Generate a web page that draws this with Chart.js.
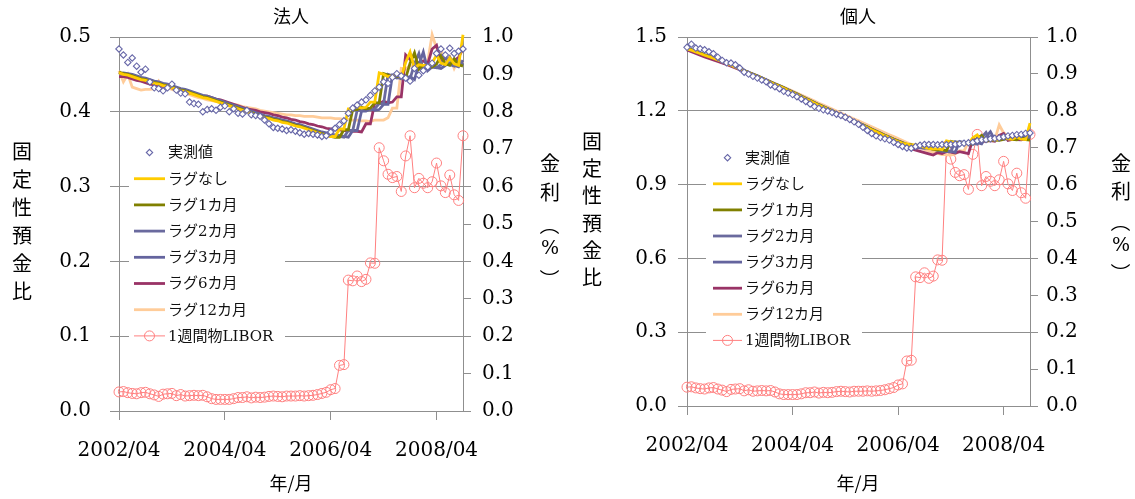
<!DOCTYPE html>
<html>
<head>
<meta charset="utf-8">
<script src="https://cdn.jsdelivr.net/npm/chart.js@4.4.1/dist/chart.umd.min.js"></script>
<style>
  html, body { margin: 0; padding: 0; background: #fff; }
  #wrap { position: relative; width: 1135px; height: 499px; overflow: hidden; }
  canvas { position: absolute; top: 0; }
  #c1 { left: 0; }
  #c2 { left: 567px; }
</style>
</head>
<body>
<div id="wrap">
  <canvas id="c1" width="567" height="499"></canvas>
  <canvas id="c2" width="568" height="499"></canvas>
</div>
<script>
// Months 2002/04 .. 2008/10
const months = [
  '2002/04','2002/05','2002/06','2002/07','2002/08','2002/09','2002/10','2002/11','2002/12',
  '2003/01','2003/02','2003/03','2003/04','2003/05','2003/06','2003/07','2003/08','2003/09','2003/10','2003/11','2003/12',
  '2004/01','2004/02','2004/03','2004/04','2004/05','2004/06','2004/07','2004/08','2004/09','2004/10','2004/11','2004/12',
  '2005/01','2005/02','2005/03','2005/04','2005/05','2005/06','2005/07','2005/08','2005/09','2005/10','2005/11','2005/12',
  '2006/01','2006/02','2006/03','2006/04','2006/05','2006/06','2006/07','2006/08','2006/09','2006/10','2006/11','2006/12',
  '2007/01','2007/02','2007/03','2007/04','2007/05','2007/06','2007/07','2007/08','2007/09','2007/10','2007/11','2007/12',
  '2008/01','2008/02','2008/03','2008/04','2008/05','2008/06','2008/07','2008/08','2008/09','2008/10'
];
const seriesNames = ['実測値','ラグなし','ラグ1カ月','ラグ2カ月','ラグ3カ月','ラグ6カ月','ラグ12カ月','1週間物LIBOR'];
const panelTitles = ['法人','個人'];
const leftAxisTitle = '固定性預金比';
const rightAxisTitle = '金利（%）';
const xAxisTitle = '年/月';

// 1週間物LIBOR (%)
const libor = [
  .051,.052,.049,.047,.046,.049,.050,.046,.043,.039,
  .045,.046,.047,.041,.044,.040,.041,.042,.041,.042,
  .038,.033,.031,.031,.031,.031,.033,.036,.036,.038,
  .035,.037,.036,.037,.039,.040,.039,.038,.040,.040,
  .040,.041,.040,.041,.042,.044,.047,.050,
  .057,.060,.122,.124,.350,.348,.361,.346,.352,.396,
  .395,.704,.669,.633,.624,.627,.587,.682,.736,.597,
  .622,.609,.597,.613,.663,.602,.584,.631,.578,.563,.736
];

// 法人
const corpActual = [
  .484,.476,.466,.472,.461,.453,.457,.440,.432,.431,
  .428,.432,.437,.429,.425,.424,.413,.411,.410,.400,
  .403,.404,.402,.406,.408,.400,.404,.398,.397,.402,
  .396,.395,.394,.389,.384,.379,.378,.377,.375,.376,
  .374,.372,.370,.371,.370,.369,.367,.368,
  .373,.378,.383,.388,.398,.405,.409,.413,.416,.422,
  .428,.433,.440,.438,.446,.451,.448,.445,.441,.458,
  .449,.455,.460,.465,.478,.484,.476,.485,.478,.481,.484
];
const corpLag0 = [
  .452,.450,.449,.447,.445,.443,.442,.440,.438,.437,
  .435,.434,.432,.430,.428,.427,.425,.423,.421,.419,
  .418,.416,.414,.412,.410,.408,.406,.404,.402,.400,
  .398,.396,.394,.392,.391,.389,.388,.386,.385,.383,
  .381,.380,.378,.376,.374,.372,.370,.368,
  .367,.367,.377,.377,.404,.404,.407,.405,.406,.413,
  .413,.452,.450,.447,.448,.450,.446,.466,.480,.458,
  .463,.462,.461,.465,.476,.465,.463,.472,.464,.462,.503
];
const corpLag1 = [
  .453,.451,.450,.448,.446,.444,.443,.441,.439,.438,
  .436,.435,.433,.431,.429,.428,.426,.424,.422,.420,
  .419,.417,.415,.413,.411,.409,.407,.405,.403,.401,
  .399,.397,.395,.393,.392,.390,.389,.387,.386,.384,
  .382,.381,.379,.377,.375,.373,.371,.369,
  .367,.366,.366,.376,.376,.403,.403,.406,.404,.405,
  .412,.412,.451,.449,.446,.447,.449,.445,.465,.479,
  .457,.462,.461,.460,.464,.475,.464,.462,.471,.463,.461
];
const corpLag2 = [
  .451,.451,.450,.449,.447,.445,.444,.442,.440,.439,
  .437,.436,.434,.432,.430,.429,.427,.425,.423,.421,
  .420,.418,.416,.414,.412,.410,.408,.406,.404,.402,
  .400,.398,.396,.394,.393,.391,.390,.388,.387,.385,
  .383,.382,.380,.378,.376,.374,.372,.371,
  .369,.368,.367,.366,.375,.375,.402,.402,.405,.403,
  .404,.411,.411,.450,.448,.445,.446,.448,.444,.464,
  .478,.456,.461,.460,.459,.463,.474,.463,.461,.470,.462
];
const corpLag3 = [
  .450,.452,.451,.450,.448,.446,.445,.443,.441,.440,
  .438,.437,.435,.433,.431,.430,.428,.426,.424,.422,
  .421,.419,.417,.415,.413,.411,.409,.407,.405,.403,
  .401,.399,.397,.395,.394,.392,.391,.389,.388,.386,
  .384,.383,.381,.379,.377,.375,.373,.372,
  .370,.369,.368,.367,.366,.375,.375,.401,.401,.404,
  .402,.403,.410,.410,.449,.447,.444,.445,.447,.443,
  .463,.480,.455,.460,.459,.458,.462,.473,.462,.460,.469
];
const corpLag6 = [
  .447,.447,.446,.444,.442,.441,.439,.437,.436,.434,
  .434,.433,.432,.430,.428,.427,.425,.424,.422,.421,
  .421,.419,.417,.416,.414,.412,.410,.408,.406,.404,
  .403,.402,.400,.399,.398,.396,.395,.393,.392,.390,
  .389,.387,.386,.384,.383,.381,.380,.378,
  .377,.377,.376,.375,.375,.374,.374,.373,.384,.384,
  .412,.411,.414,.412,.413,.420,.420,.476,.470,.465,
  .466,.468,.464,.484,.489,.467,.471,.470,.468,.473,.484
];
const corpLag12 = [
  .455,.440,.450,.433,.431,.429,.430,.430,.431,.441,
  .433,.432,.430,.428,.426,.425,.423,.421,.419,.418,
  .416,.415,.414,.413,.412,.411,.410,.409,.407,.406,
  .405,.404,.402,.401,.400,.399,.398,.397,.396,.396,
  .395,.395,.394,.394,.394,.393,.392,.392,
  .392,.391,.391,.390,.390,.389,.389,.388,.388,.387,
  .389,.389,.389,.392,.405,.405,.458,.457,.462,.460,
  .462,.468,.467,.503,.485,.482,.470,.474,.458,.470,.465
];

// 個人
const indivActual = [
  1.458,1.471,1.455,1.452,1.448,1.440,1.432,1.418,1.405,1.395,
  1.394,1.387,1.374,1.357,1.349,1.340,1.333,1.325,1.318,1.305,
  1.298,1.290,1.279,1.272,1.266,1.257,1.248,1.238,1.228,1.217,
  1.210,1.204,1.199,1.193,1.186,1.181,1.174,1.165,1.155,1.145,
  1.133,1.120,1.108,1.098,1.091,1.086,1.081,1.072,
  1.063,1.055,1.049,1.048,1.055,1.060,1.063,1.063,1.063,1.062,
  1.063,1.062,1.063,1.064,1.066,1.068,1.070,1.072,1.078,1.082,
  1.083,1.086,1.088,1.090,1.094,1.098,1.100,1.103,1.104,1.108,1.110
];
const indivLag0 = [
  1.452,1.446,1.439,1.433,1.426,1.420,1.414,1.407,1.401,1.393,
  1.385,1.377,1.370,1.362,1.354,1.346,1.339,1.331,1.323,1.315,
  1.307,1.300,1.292,1.283,1.274,1.266,1.257,1.248,1.240,1.231,
  1.222,1.214,1.206,1.198,1.189,1.181,1.173,1.165,1.156,1.148,
  1.140,1.132,1.123,1.115,1.107,1.098,1.090,1.082,
  1.075,1.068,1.066,1.060,1.062,1.056,1.052,1.047,1.044,1.046,
  1.042,1.078,1.074,1.070,1.069,1.070,1.066,1.090,1.102,1.078,
  1.084,1.083,1.082,1.086,1.098,1.086,1.084,1.094,1.085,1.083,1.150
];
const indivLag1 = [
  1.454,1.448,1.441,1.435,1.428,1.422,1.416,1.409,1.403,1.395,
  1.387,1.379,1.372,1.364,1.356,1.348,1.341,1.333,1.325,1.317,
  1.309,1.302,1.294,1.285,1.276,1.268,1.259,1.250,1.242,1.233,
  1.224,1.216,1.208,1.200,1.191,1.183,1.175,1.167,1.158,1.150,
  1.142,1.134,1.125,1.117,1.109,1.100,1.092,1.084,
  1.077,1.070,1.063,1.062,1.056,1.058,1.052,1.048,1.043,1.040,
  1.042,1.038,1.076,1.072,1.068,1.067,1.068,1.064,1.088,1.100,
  1.076,1.082,1.081,1.080,1.084,1.096,1.084,1.082,1.092,1.083,1.081
];
const indivLag2 = [
  1.450,1.447,1.440,1.434,1.427,1.421,1.415,1.408,1.402,1.394,
  1.386,1.378,1.371,1.363,1.355,1.347,1.340,1.332,1.324,1.316,
  1.308,1.301,1.293,1.284,1.275,1.267,1.258,1.249,1.241,1.232,
  1.223,1.215,1.207,1.199,1.190,1.182,1.174,1.166,1.157,1.149,
  1.141,1.133,1.124,1.116,1.108,1.099,1.091,1.083,
  1.076,1.069,1.062,1.055,1.053,1.050,1.054,1.048,1.044,1.039,
  1.036,1.038,1.034,1.074,1.072,1.068,1.067,1.068,1.064,1.092,
  1.112,1.080,1.086,1.085,1.084,1.088,1.100,1.088,1.086,1.096,1.087
];
const indivLag3 = [
  1.449,1.449,1.442,1.436,1.429,1.423,1.417,1.410,1.404,1.396,
  1.388,1.380,1.373,1.365,1.357,1.349,1.342,1.334,1.326,1.318,
  1.310,1.303,1.295,1.286,1.277,1.269,1.260,1.251,1.243,1.234,
  1.225,1.217,1.209,1.201,1.192,1.184,1.176,1.168,1.159,1.151,
  1.143,1.135,1.126,1.118,1.110,1.101,1.093,1.085,
  1.078,1.071,1.064,1.057,1.051,1.050,1.047,1.050,1.045,1.041,
  1.036,1.034,1.035,1.031,1.075,1.072,1.069,1.069,1.071,1.066,
  1.094,1.115,1.082,1.088,1.087,1.086,1.090,1.104,1.090,1.088,1.099
];
const indivLag6 = [
  1.447,1.440,1.433,1.426,1.419,1.413,1.407,1.401,1.395,1.388,
  1.381,1.374,1.367,1.359,1.351,1.344,1.337,1.329,1.321,1.313,
  1.305,1.298,1.290,1.282,1.274,1.266,1.257,1.248,1.240,1.231,
  1.222,1.213,1.205,1.196,1.187,1.179,1.170,1.162,1.153,1.145,
  1.136,1.127,1.118,1.109,1.101,1.092,1.083,1.075,
  1.067,1.059,1.052,1.046,1.040,1.035,1.030,1.025,1.020,1.030,
  1.026,1.035,1.032,1.028,1.034,1.030,1.026,1.085,1.080,1.076,
  1.077,1.079,1.076,1.100,1.108,1.080,1.084,1.083,1.082,1.087,1.090
];
const indivLag12 = [
  1.462,1.446,1.445,1.430,1.424,1.418,1.412,1.405,1.399,1.394,
  1.384,1.378,1.370,1.363,1.356,1.349,1.342,1.334,1.326,1.318,
  1.311,1.303,1.296,1.288,1.280,1.272,1.264,1.256,1.248,1.240,
  1.231,1.223,1.215,1.207,1.199,1.191,1.183,1.175,1.167,1.159,
  1.151,1.143,1.135,1.127,1.119,1.111,1.103,1.095,
  1.087,1.079,1.071,1.064,1.057,1.050,1.043,1.037,1.032,1.027,
  1.022,1.022,1.020,1.025,1.038,1.036,1.075,1.073,1.078,1.075,
  1.077,1.083,1.082,1.143,1.110,1.098,1.096,1.097,1.088,1.104,1.112
];

// axis ticks
const corpTicks = { min: 0, max: 0.5, step: 0.1 };
const indivTicks = { min: 0, max: 1.5, step: 0.3 };
const rateTicks = { min: 0, max: 1.0, step: 0.1 };

// look
const FONT = '"DejaVu Serif", "Liberation Serif", "Noto Sans CJK JP", serif';
const JFONT = '"Noto Sans CJK JP", sans-serif';
const GRID = '#8f8f8f';
const colors = {
  actual: '#6767a8',
  lag0: '#ffcc00',
  lag1: '#808000',
  lag2: '#6a6a9e',
  lag3: '#64649e',
  lag6: '#993366',
  lag12: '#ffcc99',
  libor: '#ff8080'
};

function makeDatasets(actual, lags) {
  const lagColors = [colors.lag0, colors.lag1, colors.lag2, colors.lag3, colors.lag6, colors.lag12];
  const ds = [{
    label: seriesNames[0], data: actual, yAxisID: 'y', showLine: false,
    pointStyle: 'rectRot', pointRadius: 3.2, borderColor: colors.actual,
    backgroundColor: '#ffffff', pointBorderWidth: 1.1, clip: false
  }];
  lags.forEach((d, k) => ds.push({
    label: seriesNames[k + 1], data: d, yAxisID: 'y', borderColor: lagColors[k],
    backgroundColor: lagColors[k], borderWidth: 2.8, pointRadius: 0, tension: 0, fill: false, clip: false
  }));
  ds.push({
    label: seriesNames[7], data: libor, yAxisID: 'y2', borderColor: colors.libor,
    backgroundColor: 'rgba(0,0,0,0)', borderWidth: 1, pointRadius: 5, pointStyle: 'circle',
    pointBorderColor: colors.libor, pointBackgroundColor: 'rgba(0,0,0,0)', pointBorderWidth: 1, clip: false
  });
  return ds;
}

// titles, stacked vertical axis titles and the in-plot legend
const framePlugin = {
  id: 'frame',
  afterDatasetsDraw(chart, args, o) {
    const c = chart.ctx;
    const L = o.legend;
    c.save();
    c.fillStyle = '#ffffff';
    c.fillRect(L.x0, L.y0, L.x1 - L.x0, L.y1 - L.y0);
    chart.data.datasets.forEach((ds, k) => {
      const y = L.row0 + k * L.step;
      const cx = (L.lx0 + L.lx1) / 2;
      if (ds.showLine === false) {
        c.beginPath();
        c.strokeStyle = ds.borderColor;
        c.lineWidth = 1.1;
        const r = 3.2;
        c.moveTo(cx, y - r); c.lineTo(cx + r, y); c.lineTo(cx, y + r); c.lineTo(cx - r, y); c.closePath();
        c.fillStyle = '#fff'; c.fill(); c.stroke();
      } else {
        c.beginPath();
        c.strokeStyle = ds.borderColor;
        c.lineWidth = ds.borderWidth;
        c.moveTo(L.lx0, y); c.lineTo(L.lx1, y); c.stroke();
        if (ds.pointRadius > 0) {
          c.beginPath();
          c.lineWidth = 1;
          c.arc(cx, y, ds.pointRadius, 0, Math.PI * 2);
          c.stroke();
        }
      }
      c.fillStyle = '#111';
      c.font = '15px ' + FONT;
      c.textAlign = 'left';
      c.textBaseline = 'middle';
      c.fillText(ds.label, L.tx, y + 1);
    });
    c.restore();
  },
  afterDraw(chart, args, o) {
    const c = chart.ctx;
    c.save();
    c.fillStyle = '#000';
    c.textAlign = 'center';
    c.textBaseline = 'middle';
    c.font = '18px ' + JFONT;
    c.fillText(o.title, o.cx, o.titleY);
    c.font = '18px ' + JFONT;
    c.fillText(xAxisTitle, o.cx, o.xTitleY);
    const drawStack = (text, x, ys) => {
      const chars = Array.from(text);
      chars.forEach((ch, i) => {
        c.save();
        c.translate(x, ys[i]);
        if (ch === '（' || ch === '）') {
          c.rotate(Math.PI / 2);
        }
        c.font = (ch === '%' ? '19px ' + FONT : '20px ' + JFONT);
        c.fillText(ch, 0, 0);
        c.restore();
      });
    };
    drawStack(leftAxisTitle, o.lt.x, o.lt.ys);
    drawStack(rightAxisTitle, o.rt.x, o.rt.ys);
    c.restore();
  }
};

function makeChart(id, cfg) {
  const tickFont = { family: FONT, size: 20 };
  return new Chart(document.getElementById(id), {
    type: 'line',
    data: { labels: months, datasets: makeDatasets(cfg.actual, cfg.lags) },
    plugins: [framePlugin],
    options: {
      responsive: false,
      animation: false,
      events: [],
      layout: { padding: { top: cfg.top, left: 0, right: 0, bottom: 0 } },
      plugins: {
        legend: { display: false },
        tooltip: { enabled: false },
        frame: cfg.frame
      },
      scales: {
        x: {
          type: 'category', offset: false,
          grid: {
            drawOnChartArea: false, tickLength: 9, lineWidth: 1,
            tickColor: (ctx) => (ctx.index % 24 === 0 ? GRID : 'rgba(0,0,0,0)')
          },
          border: { color: GRID, width: 1 },
          ticks: {
            autoSkip: false, maxRotation: 0, minRotation: 0, padding: cfg.xPad,
            color: '#000', font: tickFont,
            callback: (v, i) => (i % 24 === 0 ? months[i] : '')
          },
          afterFit: (s) => { s.height = cfg.xH; }
        },
        y: {
          position: 'left', min: cfg.yTicks.min, max: cfg.yTicks.max,
          grid: { color: GRID, tickLength: 9, lineWidth: 1 },
          border: { color: GRID, width: 1 },
          ticks: {
            stepSize: cfg.yTicks.step, padding: cfg.yPad, color: '#000', font: tickFont,
            callback: (v) => Number(v).toFixed(1)
          },
          afterFit: (s) => { s.width = cfg.yW; }
        },
        y2: {
          position: 'right', min: rateTicks.min, max: rateTicks.max,
          grid: { drawOnChartArea: false, color: GRID, tickLength: 8, lineWidth: 1 },
          border: { color: GRID, width: 1 },
          ticks: {
            stepSize: rateTicks.step, padding: cfg.y2Pad, color: '#000', font: tickFont,
            callback: (v) => Number(v).toFixed(1)
          },
          afterFit: (s) => { s.width = cfg.y2W; }
        }
      }
    }
  });
}

makeChart('c1', {
  actual: corpActual,
  lags: [corpLag0, corpLag1, corpLag2, corpLag3, corpLag6, corpLag12],
  yTicks: corpTicks,
  top: 37, xH: 88, yW: 119, y2W: 104, xPad: 19, yPad: 19, y2Pad: 11,
  frame: {
    title: panelTitles[0], cx: 291, titleY: 16, xTitleY: 483,
    lt: { x: 22, ys: [151, 179, 207, 235, 263, 291] },
    rt: { x: 550, ys: [163, 192, 225, 249, 279] },
    legend: { x0: 129, x1: 285, y0: 139, y1: 349, row0: 152.5, step: 26.2, lx0: 134, lx1: 165, tx: 168 }
  }
});

makeChart('c2', {
  actual: indivActual,
  lags: [indivLag0, indivLag1, indivLag2, indivLag3, indivLag6, indivLag12],
  yTicks: indivTicks,
  top: 37, xH: 93, yW: 120, y2W: 105, xPad: 19, yPad: 11, y2Pad: 8,
  frame: {
    title: panelTitles[1], cx: 291, titleY: 16, xTitleY: 483,
    lt: { x: 25, ys: [141, 168, 195, 223, 250, 277] },
    rt: { x: 554, ys: [163, 191, 222, 246, 273] },
    legend: { x0: 139, x1: 295, y0: 144, y1: 353, row0: 157.7, step: 26.1, lx0: 146, lx1: 175, tx: 178 }
  }
});
</script>
</body>
</html>
